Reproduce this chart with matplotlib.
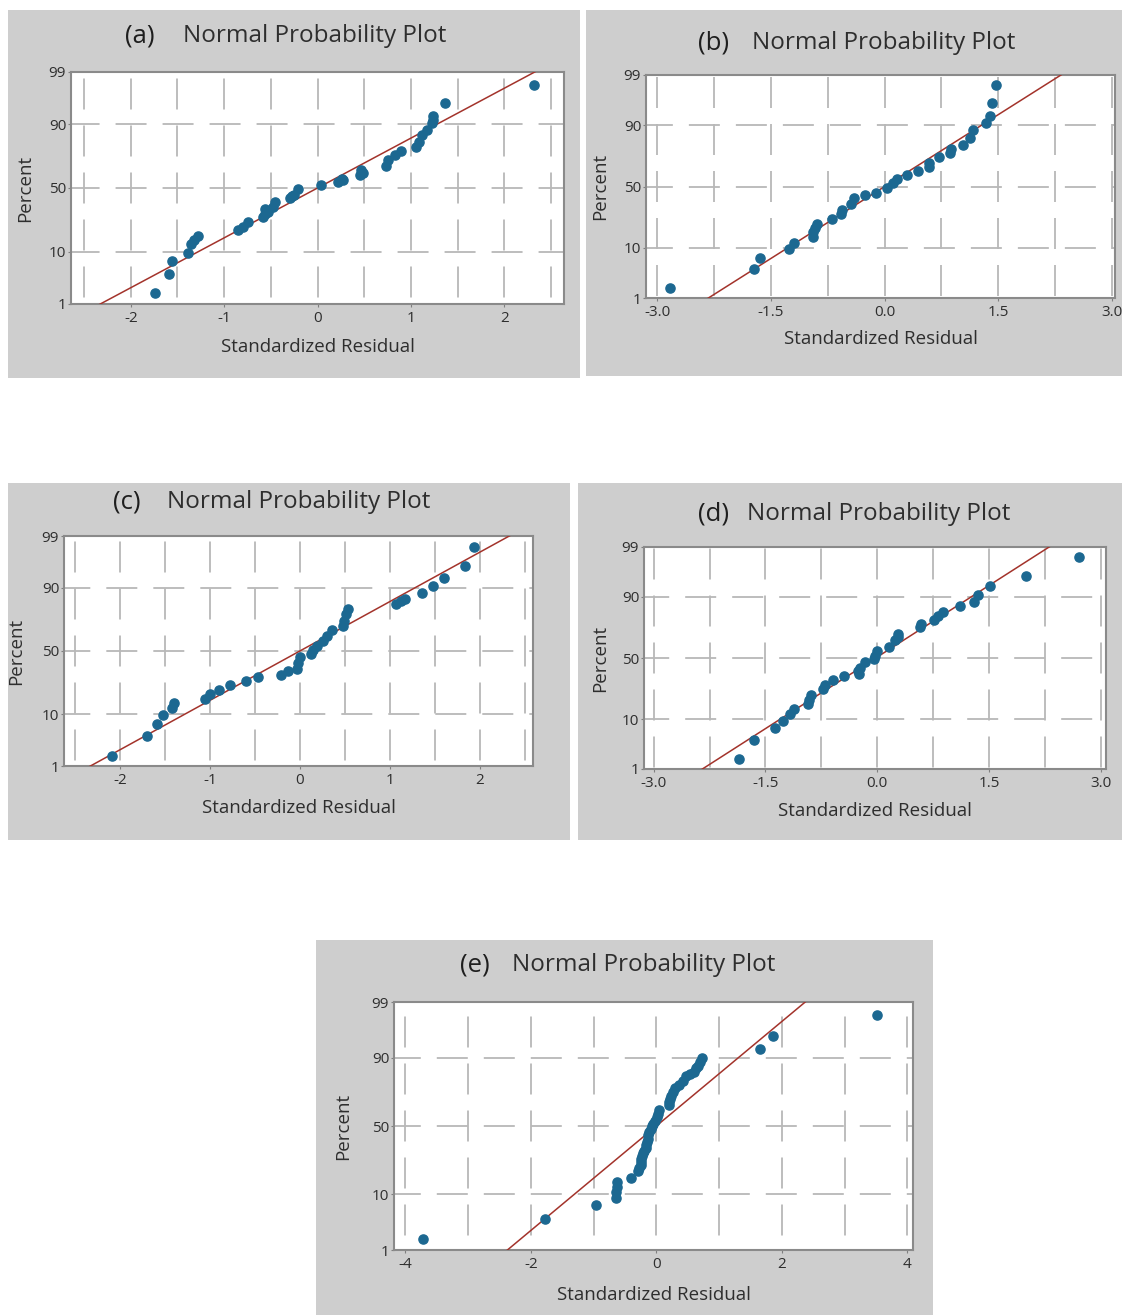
import numpy as np
import matplotlib.pyplot as plt
from matplotlib.patches import Rectangle
from statistics import NormalDist

W, H, DPI = 1122, 1315, 100

# ---- data (residual, percent) ----
res_a = [-1.74, -1.59, -1.56, -1.39, -1.35, -1.32, -1.28, -0.85, -0.80, -0.745, -0.585, -0.567,
         -0.56, -0.525, -0.48, -0.45, -0.29, -0.27, -0.255, -0.205, 0.04, 0.22, 0.266, 0.27, 0.45,
         0.47, 0.49, 0.73, 0.76, 0.83, 0.89, 1.06, 1.09, 1.12, 1.17, 1.23, 1.24, 1.24, 1.365, 2.32]
pct_a = [1.8, 4.2, 7.1, 9.5, 12.9, 15.0, 17.0, 19.8, 22.0, 25.0, 27.8, 30.0,
         33.5, 31.8, 35.4, 39.0, 42.0, 43.5, 44.8, 49.0, 52.0, 55.0, 57.0, 56.0, 60.0,
         64.0, 62.0, 67.0, 71.0, 74.5, 77.0, 79.6, 82.0, 85.8, 87.9, 90.3, 91.5, 92.6, 95.6, 98.1]

res_b = [-2.83, -1.73, -1.64, -1.26, -1.20, -0.95, -0.94, -0.92, -0.89, -0.70, -0.57, -0.56,
         -0.45, -0.40, -0.26, -0.11, 0.03, 0.11, 0.16, 0.29, 0.44, 0.58, 0.58, 0.72, 0.86,
         0.88, 1.03, 1.13, 1.17, 1.34, 1.39, 1.42, 1.47]
pct_b = [1.7, 4.3, 6.8, 9.6, 11.8, 14.4, 17.0, 19.5, 22.0, 25.0, 28.0, 31.0,
         36.0, 40.5, 43.0, 45.0, 48.6, 52.8, 56.0, 59.7, 62.9, 66.0, 68.7, 73.0, 76.0,
         78.0, 80.7, 84.4, 88.0, 90.8, 93.0, 96.0, 98.3]

res_c = [-2.085, -1.70, -1.59, -1.52, -1.42, -1.40, -1.05, -1.00, -0.90, -0.78, -0.60, -0.47,
         -0.21, -0.137, -0.037, -0.019, 0.00, 0.12, 0.15, 0.185, 0.26, 0.30, 0.36, 0.48, 0.49,
         0.51, 0.54, 1.07, 1.12, 1.17, 1.36, 1.48, 1.60, 1.83, 1.94]
pct_c = [1.7, 4.2, 7.0, 9.7, 12.6, 14.7, 16.7, 19.4, 21.8, 24.4, 27.2, 30.0,
         31.6, 34.3, 36.0, 40.4, 45.0, 47.8, 50.5, 53.7, 58.0, 61.7, 66.2, 69.0, 73.0,
         77.0, 80.4, 83.0, 84.3, 85.5, 88.0, 90.5, 93.0, 95.7, 98.2]

res_d = [-1.86, -1.65, -1.37, -1.26, -1.17, -1.12, -0.93, -0.92, -0.89, -0.73, -0.70, -0.59,
         -0.45, -0.26, -0.25, -0.23, -0.165, -0.05, -0.03, 0.00, 0.16, 0.237, 0.28, 0.28, 0.57,
         0.59, 0.76, 0.82, 0.885, 1.11, 1.30, 1.35, 1.51, 1.99, 2.71]
pct_d = [1.7, 4.3, 7.0, 9.5, 11.9, 14.3, 17.0, 19.0, 21.6, 25.9, 28.9, 32.0,
         35.0, 39.5, 37.0, 41.7, 46.4, 49.5, 52.0, 56.0, 59.0, 64.4, 67.0, 69.4, 74.0,
         76.4, 78.5, 80.8, 83.4, 86.0, 88.0, 90.7, 93.3, 95.8, 98.3]

res_e = [-3.71, -1.78, -0.957, -0.65, -0.65, -0.63, -0.63, -0.40, -0.29, -0.27, -0.25, -0.245,
         -0.24, -0.23, -0.216, -0.19, -0.17, -0.16, -0.146, -0.14, -0.13, -0.11, -0.092, -0.07,
         -0.054, -0.02, 0.016, 0.03, 0.043, 0.195, 0.20, 0.216, 0.24, 0.26, 0.30, 0.357, 0.42,
         0.476, 0.54, 0.595, 0.63, 0.665, 0.70, 0.72, 1.654, 1.854, 3.52]
pct_e = [1.7, 4.1, 6.9, 8.9, 10.7, 12.7, 14.5, 16.6, 19.9, 21.5, 23.0, 25.0,
         26.7, 28.5, 30.3, 32.0, 34.0, 36.0, 38.2, 40.5, 43.0, 45.5, 48.0, 50.0,
         51.7, 54.0, 56.7, 59.0, 61.5, 65.5, 67.5, 69.5, 71.5, 73.7, 76.0, 78.0, 80.0,
         82.5, 83.5, 84.6, 86.0, 87.0, 88.5, 90.0, 92.7, 95.5, 98.1]

# fitted line (mean, standard deviation)
fit_a = (0.0, 1.0)
fit_b = (0.0, 1.0)
fit_c = (0.0, 1.0)
fit_d = (-0.02, 1.0)
fit_e = (0.0, 1.02)

y_ticks = [1, 10, 50, 90, 99]
y_grid = [10, 50, 90]
xt_a = [-2, -1, 0, 1, 2]
xt_b = [-3.0, -1.5, 0.0, 1.5, 3.0]
xt_e = [-4, -2, 0, 2, 4]
xl_a = ['-2', '-1', '0', '1', '2']
xl_b = ['-3.0', '-1.5', '0.0', '1.5', '3.0']
xl_e = ['-4', '-2', '0', '2', '4']

nd = NormalDist()


def zs(p):
    return np.array([nd.inv_cdf(v / 100.0) for v in p])


GRAY = '#cecece'
TXT = '#2e2e2e'
DOT = '#1c6891'
LINE = '#a3332b'
GRID = '#b8b8b8'
FONT = 'Open Sans'

plt.rcParams['font.family'] = [FONT, 'DejaVu Sans']
plt.rcParams['lines.scale_dashes'] = False

fig = plt.figure(figsize=(W / DPI, H / DPI), dpi=DPI)
fig.patch.set_facecolor('white')


def fx(px):
    return px / W


def fy(py):
    return 1 - py / H


PX2PT = 72.0 / DPI
DASH_ON, DASH_OFF = 31, 16  # pixels


def panel(label, res, pct, fit, ticks, tlabels, gstep, xlim,
          bg, box, title_y, lab_x, tit_x, ylab_x, xlab_y):
    # grey graph region
    x0, y0, x1, y1 = bg
    fig.add_artist(Rectangle((fx(x0), fy(y1)), fx(x1 - x0), (y1 - y0) / H,
                             transform=fig.transFigure, facecolor=GRAY,
                             edgecolor='none', zorder=0))
    l, t, r, b = box
    ax = fig.add_axes([fx(l), fy(b), fx(r - l), (b - t) / H])
    ax.set_zorder(2)
    ylim = (nd.inv_cdf(0.01), nd.inv_cdf(0.99))
    ax.set_xlim(*xlim)
    ax.set_ylim(*ylim)

    # dashed Minitab-like grid
    wpx, hpx = r - l, b - t
    period = DASH_ON + DASH_OFF
    dash = (DASH_ON * PX2PT, DASH_OFF * PX2PT)
    gx = np.arange(np.ceil(xlim[0] / gstep) * gstep, xlim[1] + 1e-9, gstep)
    first = (gx[0] - xlim[0]) / (xlim[1] - xlim[0]) * wpx
    off_h = ((DASH_ON / 2 - first) % period) * PX2PT
    for zg in zs(y_grid):
        ax.plot(xlim, [zg, zg], color=GRID, lw=1.3,
                linestyle=(off_h, dash), zorder=1)
    mid = (0 - ylim[0]) / (ylim[1] - ylim[0]) * hpx
    off_v = ((DASH_ON / 2 - mid) % period) * PX2PT
    for xg in gx:
        if xlim[0] < xg < xlim[1] - 0.02:
            ax.plot([xg, xg], ylim, color=GRID, lw=1.3,
                    linestyle=(off_v, dash), zorder=1)

    # fitted line
    zz = np.array([-3.0, 3.0])
    ax.plot(fit[0] + fit[1] * zz, zz, color=LINE, lw=1.1, zorder=3)
    # points
    ax.plot(res, zs(pct), 'o', ms=6.6, color=DOT, mec=DOT, zorder=4)

    ax.set_yticks(zs(y_ticks))
    ax.set_yticklabels([str(v) for v in y_ticks])
    ax.set_xticks(ticks)
    ax.set_xticklabels(tlabels)
    ax.tick_params(axis='both', length=2, width=0.8, color='#7f7f7f',
                   labelsize=11, labelcolor=TXT)
    ax.tick_params(axis='y', pad=1.5)
    ax.tick_params(axis='x', pad=3)
    for s in ax.spines.values():
        s.set_color('#8a8a8a')
        s.set_linewidth(1.5)

    fig.text(fx(lab_x), fy(title_y), '(' + label + ')', fontsize=18.5,
             color='#1e1e1e', ha='center', va='center')
    fig.text(fx(tit_x), fy(title_y), 'Normal Probability Plot', fontsize=17.5,
             color=TXT, ha='left', va='center')
    fig.text(fx(ylab_x), fy((t + b) / 2), 'Percent', fontsize=13.5, color=TXT,
             rotation=90, ha='center', va='center')
    fig.text(fx((l + r) / 2), fy(xlab_y), 'Standardized Residual', fontsize=13.5,
             color=TXT, ha='center', va='center')
    return ax


panel('a', res_a, pct_a, fit_a, xt_a, xl_a, 0.5, (-2.64, 2.64),
      (8, 10, 580, 378), (71, 72, 564, 304), 36, 140, 183, 25, 347)
panel('b', res_b, pct_b, fit_b, xt_b, xl_b, 0.75, (-3.15, 3.04),
      (586, 10, 1122, 376), (646, 75, 1115, 298), 43, 714, 752, 600, 339)
panel('c', res_c, pct_c, fit_c, xt_a, xl_a, 0.5, (-2.62, 2.59),
      (8, 483, 570, 840), (64, 536, 533, 766), 502, 127, 167, 16, 808)
panel('d', res_d, pct_d, fit_d, xt_b, xl_b, 0.75, (-3.13, 3.07),
      (578, 483, 1122, 840), (644, 547, 1106, 769), 514, 714, 747, 600, 811)
panel('e', res_e, pct_e, fit_e, xt_e, xl_e, 1.0, (-4.18, 4.09),
      (316, 940, 933, 1315), (394, 1002, 913, 1250), 965, 475, 512, 343, 1295)

fig.savefig('out.png', dpi=DPI, facecolor='white')
